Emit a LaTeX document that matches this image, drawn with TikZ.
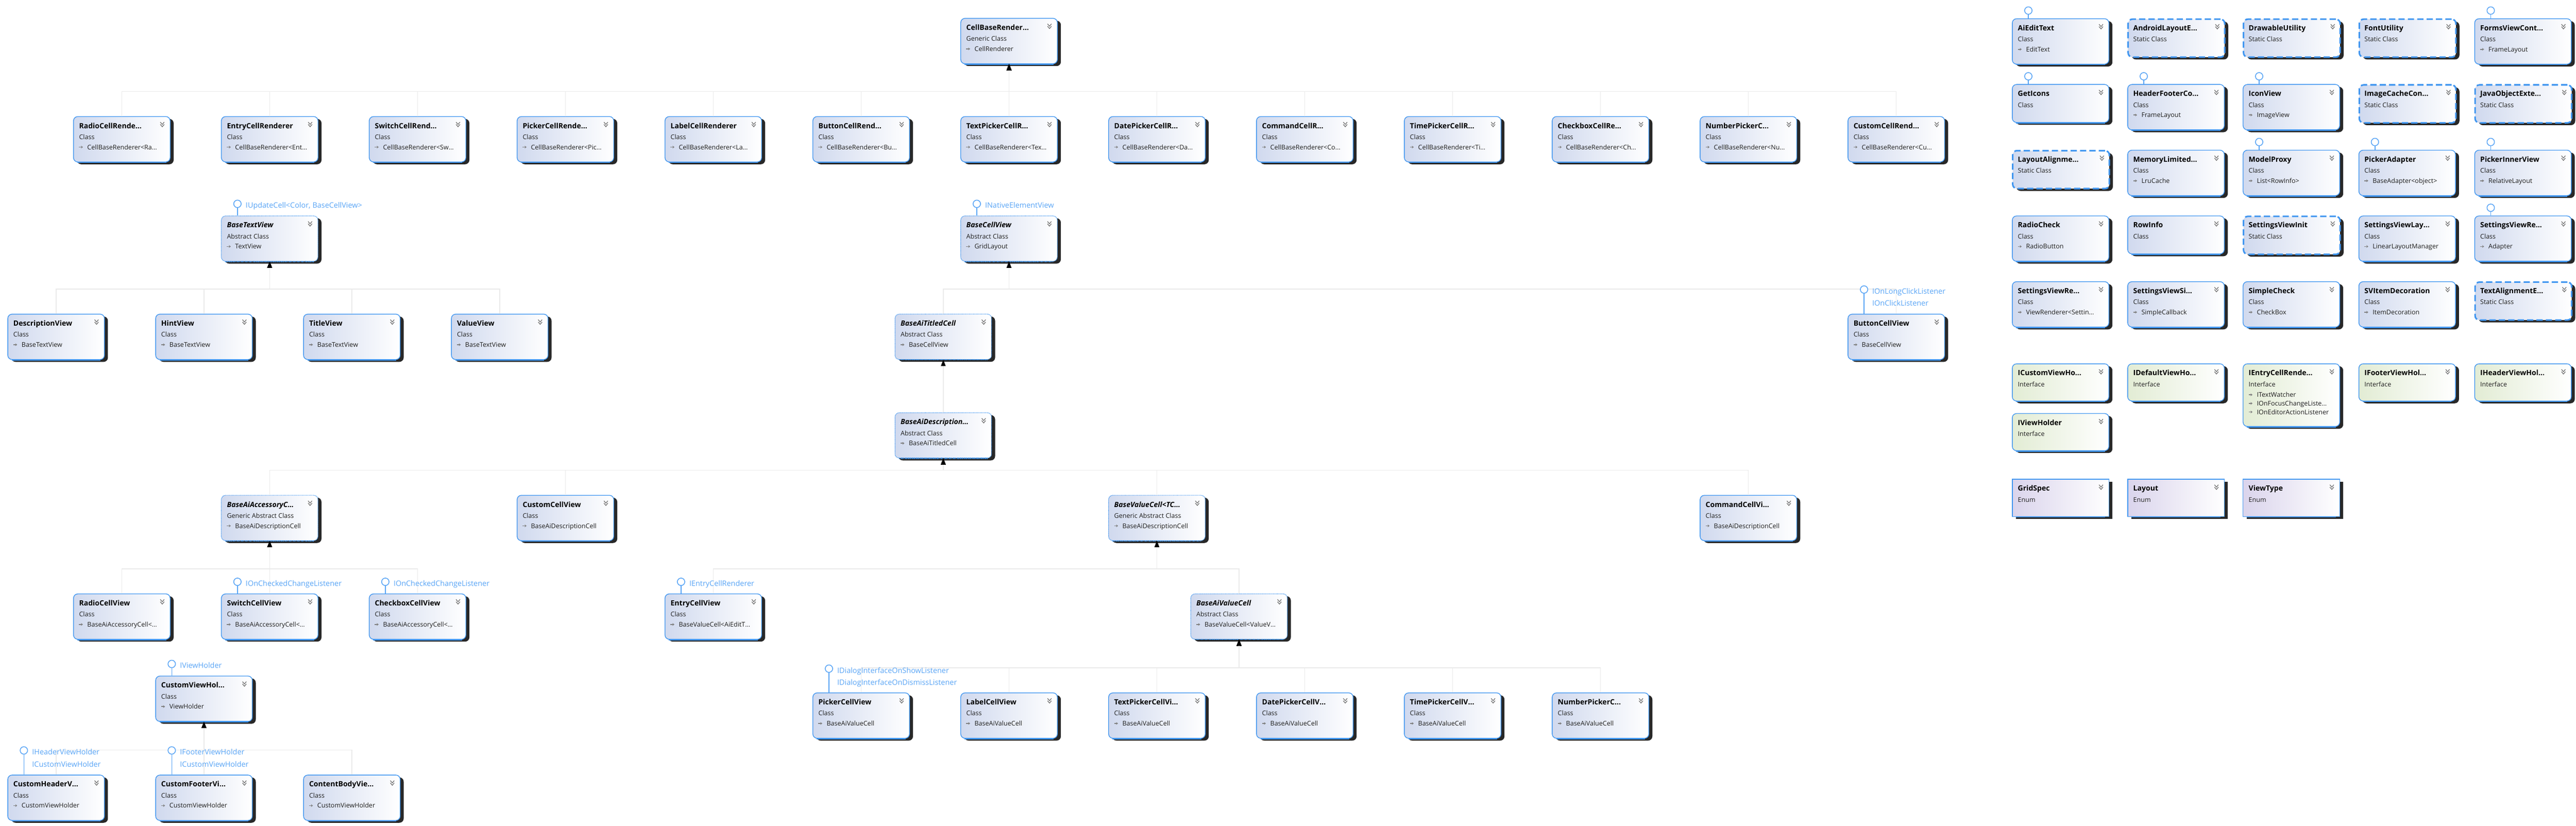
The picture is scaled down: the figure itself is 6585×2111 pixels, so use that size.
\documentclass[tikz,border=0pt]{standalone}
\usepackage{fontspec}
\setmainfont{Open Sans}
\usetikzlibrary{arrows.meta,shadows}

\definecolor{bordblue}{RGB}{64,150,240}
\definecolor{lolblue}{RGB}{88,164,245}
\definecolor{clsleft}{RGB}{208,217,238}
\definecolor{intfleft}{RGB}{226,236,212}
\definecolor{enmleft}{RGB}{218,212,236}
\definecolor{shadowc}{RGB}{40,40,40}
\definecolor{linegray}{RGB}{234,234,234}
\definecolor{chevgray}{RGB}{110,110,110}
\definecolor{txtgray}{RGB}{30,30,30}

\tikzset{
  box/.style={anchor=north west, minimum width=247, inner sep=0, rounded corners=11,
    left color=clsleft, right color=white,
    drop shadow={shadow xshift=9pt, shadow yshift=-6pt, opacity=1, fill=shadowc}},
  cls/.style={box, minimum height=116, draw=bordblue, line width=1.8},
  clss/.style={cls, minimum height=97},
  abs/.style={cls, line width=1.6, dash pattern=on 2pt off 1.5pt},
  stat/.style={cls, minimum height=97, line width=4, dash pattern=on 16pt off 8pt},
  intf/.style={cls, minimum height=95, left color=intfleft},
  intfx/.style={intf, minimum height=160},
  enm/.style={cls, minimum height=95, sharp corners, left color=enmleft},
  clsbot/.style={draw=bordblue, line width=3.5},
  clssbot/.style={clsbot},
  absbot/.style={draw=bordblue, line width=3, dash pattern=on 2pt off 1.5pt},
  statbot/.style={draw=none},
  intfbot/.style={clsbot},
  intfxbot/.style={clsbot},
  enmbot/.style={clsbot},
  ttl/.style={anchor=base west, inner sep=0, font=\fontsize{18.5}{22}\selectfont\bfseries, text=black},
  knd/.style={anchor=base west, inner sep=0, font=\fontsize{16.5}{20}\selectfont, text=txtgray},
  ilbl/.style={anchor=base west, inner sep=0, font=\fontsize{19}{22}\selectfont, text=lolblue},
  chev/.style={draw=chevgray, line width=1.6},
  barr/.style={draw=gray, line width=2.2, -{Stealth[length=5pt,width=7pt]}},
  inh/.style={draw=linegray, line width=2, -{Triangle[width=12pt,length=16pt,color=black]}},
  lol/.style={draw=lolblue, line width=2}
}

% base type line with its little arrow
\newcommand\ubase[3]{%
  \draw[barr] ([shift={(15,#2-6)}]#1.north west) -- ++(10,0);
  \node[knd] (#1-b#2) at ([shift={(36,#2)}]#1.north west) {#3};}

% class shape: [style]{name}{x,y}{title}{kind}{base}
\newcommand\ubox[6][cls]{%
  \node[#1] (#2) at (#3) {};
  \draw[#1bot] ([xshift=11]#2.south west) -- ([xshift=-11]#2.south east);
  \node[ttl] (#2-t) at ([shift={(15,31)}]#2.north west) {#4};
  \node[knd] (#2-k) at ([shift={(15,59)}]#2.north west) {#5};
  \draw[chev] ([shift={(-26,15)}]#2.north east) -- ++(5,6) -- ++(5,-6)
    ([shift={(-26,21)}]#2.north east) -- ++(5,6) -- ++(5,-6);
  \if\relax\detokenize{#6}\relax\else\ubase{#2}{85}{#6}\fi}

% lollipop: {node}{stem}{label}{second label}
\newcommand\lolli[4]{%
  \coordinate (#1-c) at ([shift={(42,-#2)}]#1.north west);
  \draw[lol] ([shift={(0,9.5)}]#1-c) -- ([xshift=42]#1.north west);
  \draw[lol, fill=white] (#1-c) circle[radius=9.5];
  \if\relax\detokenize{#3}\relax\else\node[ilbl] (#1-i1) at ([shift={(21,11)}]#1-c) {#3};\fi
  \if\relax\detokenize{#4}\relax\else\node[ilbl] (#1-i2) at ([shift={(21,42)}]#1-c) {#4};\fi}

\begin{document}
\begin{tikzpicture}[x=1pt, y=-1pt]
\useasboundingbox (0,0) rectangle (6585,2111);

% renderers
\ubox{CBR}{2455,46}{CellBaseRender…}{Generic Class}{CellRenderer}
\ubox{RadioCR}{187,297}{RadioCellRende…}{Class}{CellBaseRenderer<Ra…}
\ubox{EntryCR}{565,297}{EntryCellRenderer}{Class}{CellBaseRenderer<Ent…}
\ubox{SwitchCR}{943,297}{SwitchCellRend…}{Class}{CellBaseRenderer<Sw…}
\ubox{PickerCR}{1321,297}{PickerCellRende…}{Class}{CellBaseRenderer<Pic…}
\ubox{LabelCR}{1699,297}{LabelCellRenderer}{Class}{CellBaseRenderer<La…}
\ubox{ButtonCR}{2077,297}{ButtonCellRend…}{Class}{CellBaseRenderer<Bu…}
\ubox{TextPickerCR}{2455,297}{TextPickerCellR…}{Class}{CellBaseRenderer<Tex…}
\ubox{DatePickerCR}{2833,297}{DatePickerCellR…}{Class}{CellBaseRenderer<Da…}
\ubox{CommandCR}{3211,297}{CommandCellR…}{Class}{CellBaseRenderer<Co…}
\ubox{TimePickerCR}{3589,297}{TimePickerCellR…}{Class}{CellBaseRenderer<Ti…}
\ubox{CheckboxCR}{3967,297}{CheckboxCellRe…}{Class}{CellBaseRenderer<Ch…}
\ubox{NumberPickerCR}{4345,297}{NumberPickerC…}{Class}{CellBaseRenderer<Nu…}
\ubox{CustomCR}{4723,297}{CustomCellRend…}{Class}{CellBaseRenderer<Cu…}

% text views
\ubox[abs]{BTV}{565,551}{\itshape BaseTextView}{Abstract Class}{TextView}
\ubox{DescV}{19,802}{DescriptionView}{Class}{BaseTextView}
\ubox{HintV}{397,802}{HintView}{Class}{BaseTextView}
\ubox{TitleV}{775,802}{TitleView}{Class}{BaseTextView}
\ubox{ValueV}{1153,802}{ValueView}{Class}{BaseTextView}

% cell views
\ubox[abs]{BCV}{2455,551}{\itshape BaseCellView}{Abstract Class}{GridLayout}
\ubox[abs]{BATC}{2287,802}{\itshape BaseAiTitledCell}{Abstract Class}{BaseCellView}
\ubox{ButtonCV}{4723,802}{ButtonCellView}{Class}{BaseCellView}
\ubox[abs]{BADC}{2287,1054}{\itshape BaseAiDescription…}{Abstract Class}{BaseAiTitledCell}
\ubox[abs]{BAAC}{565,1265}{\itshape BaseAiAccessoryC…}{Generic Abstract Class}{BaseAiDescriptionCell}
\ubox{CustomCV}{1321,1265}{CustomCellView}{Class}{BaseAiDescriptionCell}
\ubox[abs]{BVC}{2833,1265}{\itshape BaseValueCell<TC…}{Generic Abstract Class}{BaseAiDescriptionCell}
\ubox{CommandCV}{4345,1265}{CommandCellVi…}{Class}{BaseAiDescriptionCell}
\ubox{RadioCV}{187,1517}{RadioCellView}{Class}{BaseAiAccessoryCell<…}
\ubox{SwitchCV}{565,1517}{SwitchCellView}{Class}{BaseAiAccessoryCell<…}
\ubox{CheckboxCV}{943,1517}{CheckboxCellView}{Class}{BaseAiAccessoryCell<…}
\ubox{EntryCV}{1699,1517}{EntryCellView}{Class}{BaseValueCell<AiEditT…}
\ubox[abs]{BAVC}{3043,1517}{\itshape BaseAiValueCell}{Abstract Class}{BaseValueCell<ValueV…}
\ubox{PickerCV}{2077,1770}{PickerCellView}{Class}{BaseAiValueCell}
\ubox{LabelCV}{2455,1770}{LabelCellView}{Class}{BaseAiValueCell}
\ubox{TextPickerCV}{2833,1770}{TextPickerCellVi…}{Class}{BaseAiValueCell}
\ubox{DatePickerCV}{3211,1770}{DatePickerCellV…}{Class}{BaseAiValueCell}
\ubox{TimePickerCV}{3589,1770}{TimePickerCellV…}{Class}{BaseAiValueCell}
\ubox{NumberPickerCV}{3967,1770}{NumberPickerC…}{Class}{BaseAiValueCell}

% view holders
\ubox{CustomVH}{397,1727}{CustomViewHol…}{Class}{ViewHolder}
\ubox{CustomHeaderVH}{19,1980}{CustomHeaderV…}{Class}{CustomViewHolder}
\ubox{CustomFooterVH}{397,1980}{CustomFooterVi…}{Class}{CustomViewHolder}
\ubox{ContentBodyVH}{775,1980}{ContentBodyVie…}{Class}{CustomViewHolder}

% loose types on the right
\ubox{AiEditText}{5143,47}{AiEditText}{Class}{EditText}
\ubox[stat]{AndroidLayoutE}{5438,47}{AndroidLayoutE…}{Static Class}{}
\ubox[stat]{DrawableUtility}{5733,47}{DrawableUtility}{Static Class}{}
\ubox[stat]{FontUtility}{6029,47}{FontUtility}{Static Class}{}
\ubox{FormsViewCont}{6325,47}{FormsViewCont…}{Class}{FrameLayout}
\ubox[clss]{GetIcons}{5143,215}{GetIcons}{Class}{}
\ubox{HeaderFooterCo}{5438,215}{HeaderFooterCo…}{Class}{FrameLayout}
\ubox{IconView}{5733,215}{IconView}{Class}{ImageView}
\ubox[stat]{ImageCacheCon}{6029,215}{ImageCacheCon…}{Static Class}{}
\ubox[stat]{JavaObjectExte}{6325,215}{JavaObjectExte…}{Static Class}{}
\ubox[stat]{LayoutAlignme}{5143,383}{LayoutAlignme…}{Static Class}{}
\ubox{MemoryLimited}{5438,383}{MemoryLimited…}{Class}{LruCache}
\ubox{ModelProxy}{5733,383}{ModelProxy}{Class}{List<RowInfo>}
\ubox{PickerAdapter}{6029,383}{PickerAdapter}{Class}{BaseAdapter<object>}
\ubox{PickerInnerView}{6325,383}{PickerInnerView}{Class}{RelativeLayout}
\ubox{RadioCheck}{5143,551}{RadioCheck}{Class}{RadioButton}
\ubox[clss]{RowInfo}{5438,551}{RowInfo}{Class}{}
\ubox[stat]{SettingsViewInit}{5733,551}{SettingsViewInit}{Static Class}{}
\ubox{SettingsViewLay}{6029,551}{SettingsViewLay…}{Class}{LinearLayoutManager}
\ubox{SettingsViewReA}{6325,551}{SettingsViewRe…}{Class}{Adapter}
\ubox{SettingsViewReR}{5143,719}{SettingsViewRe…}{Class}{ViewRenderer<Settin…}
\ubox{SettingsViewSi}{5438,719}{SettingsViewSi…}{Class}{SimpleCallback}
\ubox{SimpleCheck}{5733,719}{SimpleCheck}{Class}{CheckBox}
\ubox{SVItemDecoration}{6029,719}{SVItemDecoration}{Class}{ItemDecoration}
\ubox[stat]{TextAlignmentE}{6325,719}{TextAlignmentE…}{Static Class}{}

% interfaces and enums
\ubox[intf]{ICustomViewHo}{5143,929}{ICustomViewHo…}{Interface}{}
\ubox[intf]{IDefaultViewHo}{5438,929}{IDefaultViewHo…}{Interface}{}
\ubox[intfx]{IEntryCellRende}{5733,929}{IEntryCellRende…}{Interface}{}
\ubase{IEntryCellRende}{86}{ITextWatcher}
\ubase{IEntryCellRende}{108}{IOnFocusChangeListe…}
\ubase{IEntryCellRende}{130}{IOnEditorActionListener}
\ubox[intf]{IFooterViewHol}{6029,929}{IFooterViewHol…}{Interface}{}
\ubox[intf]{IHeaderViewHol}{6325,929}{IHeaderViewHol…}{Interface}{}
\ubox[intf]{IViewHolder}{5143,1056}{IViewHolder}{Interface}{}
\ubox[enm]{GridSpec}{5143,1224}{GridSpec}{Enum}{}
\ubox[enm]{Layout}{5438,1224}{Layout}{Enum}{}
\ubox[enm]{ViewType}{5733,1224}{ViewType}{Enum}{}

% inheritance
\foreach \c in {RadioCR,EntryCR,SwitchCR,PickerCR,LabelCR,ButtonCR,TextPickerCR,DatePickerCR,CommandCR,TimePickerCR,CheckboxCR,NumberPickerCR,CustomCR}
  \draw[inh] (\c.north) -- ++(0,-63) -| (CBR.south);
\foreach \c in {DescV,HintV,TitleV,ValueV}
  \draw[inh] (\c.north) -- ++(0,-63) -| (BTV.south);
\foreach \c in {BATC,ButtonCV}
  \draw[inh] (\c.north) -- ++(0,-63) -| (BCV.south);
\draw[inh] (BADC.north) -- (BATC.south);
\foreach \c in {BAAC,CustomCV,BVC,CommandCV}
  \draw[inh] (\c.north) -- ++(0,-63) -| (BADC.south);
\foreach \c in {RadioCV,SwitchCV,CheckboxCV}
  \draw[inh] (\c.north) -- ++(0,-63) -| (BAAC.south);
\foreach \c in {EntryCV,BAVC}
  \draw[inh] (\c.north) -- ++(0,-63) -| (BVC.south);
\foreach \c in {PickerCV,LabelCV,TextPickerCV,DatePickerCV,TimePickerCV,NumberPickerCV}
  \draw[inh] (\c.north) -- ++(0,-63) -| (BAVC.south);
\foreach \c in {CustomHeaderVH,CustomFooterVH,ContentBodyVH}
  \draw[inh] (\c.north) -- ++(0,-63) -| (CustomVH.south);

% implemented interfaces
\lolli{BTV}{30}{IUpdateCell<Color, BaseCellView>}{}
\lolli{BCV}{30}{INativeElementView}{}
\lolli{ButtonCV}{62}{IOnLongClickListener}{IOnClickListener}
\lolli{SwitchCV}{30}{IOnCheckedChangeListener}{}
\lolli{CheckboxCV}{30}{IOnCheckedChangeListener}{}
\lolli{EntryCV}{30}{IEntryCellRenderer}{}
\lolli{CustomVH}{30}{IViewHolder}{}
\lolli{CustomHeaderVH}{62}{IHeaderViewHolder}{ICustomViewHolder}
\lolli{CustomFooterVH}{62}{IFooterViewHolder}{ICustomViewHolder}
\lolli{PickerCV}{61}{IDialogInterfaceOnShowListener}{IDialogInterfaceOnDismissListener}
\foreach \c in {AiEditText,FormsViewCont,GetIcons,HeaderFooterCo,IconView,ModelProxy,PickerAdapter,PickerInnerView,SettingsViewReA}
  {\lolli{\c}{20}{}{}}
\end{tikzpicture}
\end{document}
